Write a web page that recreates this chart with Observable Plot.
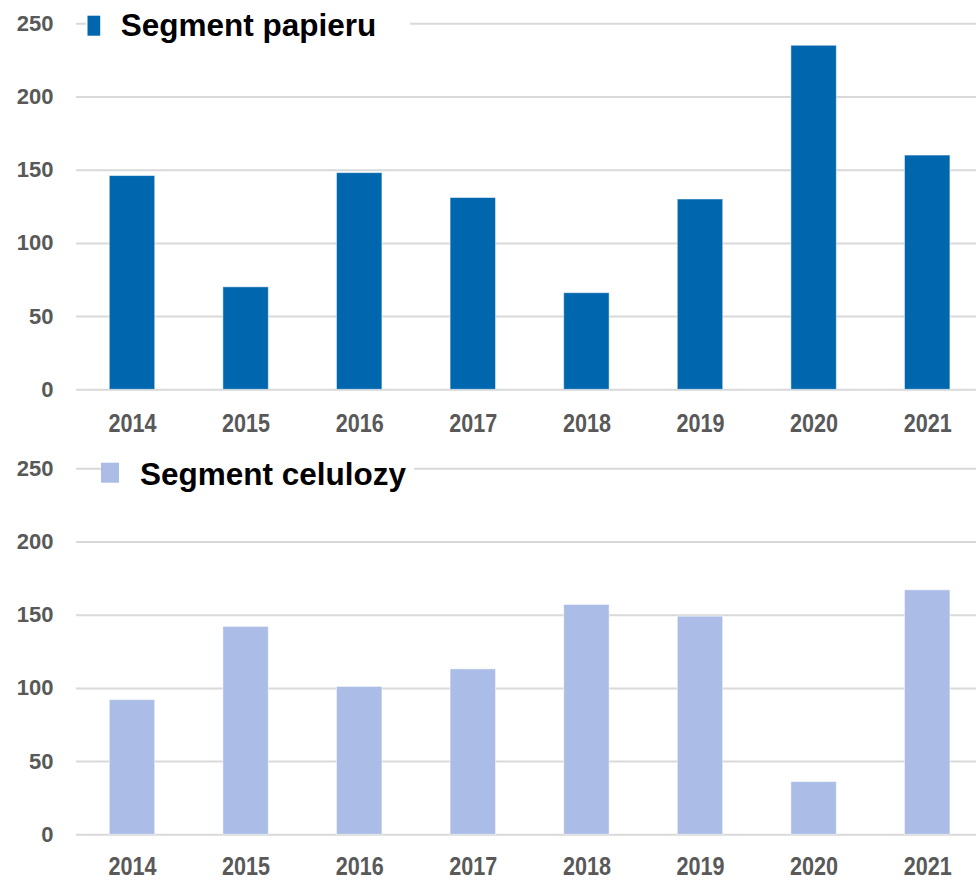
<!DOCTYPE html>
<html>
<head>
<meta charset="utf-8">
<script src="https://cdn.jsdelivr.net/npm/d3@7"></script>
<script src="https://cdn.jsdelivr.net/npm/@observablehq/plot@0.6"></script>
<style>
  html, body { margin: 0; padding: 0; background: white; overflow: hidden; }
  #wrap { width: 976px; }
  #wrap svg { display: block; }
</style>
</head>
<body>
<div id="wrap"></div>
<script>
const years = ["2014", "2015", "2016", "2017", "2018", "2019", "2020", "2021"];
const paperValues = [146, 70, 148, 131, 66, 130, 235, 160];
const pulpValues = [92, 142, 101, 113, 157, 149, 36, 167];
const yTicks = [0, 50, 100, 150, 200, 250];
const titles = ["Segment papieru", "Segment celulozy"];
const colors = ["#0066AD", "#ABBDE6"];

const FONT = "'Liberation Sans', Arial, Helvetica, sans-serif";

function makeChart(values, color, o) {
  const table = years.map((year, i) => ({year, value: values[i]}));
  const svg = Plot.plot({
    width: 976,
    height: o.height,
    marginTop: o.marginTop,
    marginBottom: o.marginBottom,
    marginLeft: 76,
    marginRight: 0,
    style: {fontFamily: FONT, background: "white", overflow: "hidden"},
    x: {type: "band", domain: years, range: [75.2, 984], paddingInner: 0.6, paddingOuter: 0.3, round: false, label: null},
    y: {domain: [0, 250], label: null},
    marks: [
      Plot.gridY(yTicks, {stroke: "#d9d9d9", strokeOpacity: 1, strokeWidth: 2}),
      Plot.barY(table, {x: "year", y: "value", fill: color, stroke: "white", strokeOpacity: 0.5, strokeWidth: 1}),
      Plot.axisY(yTicks, {tickSize: 0, tickPadding: 23, fontSize: 22, fontWeight: "bold", fill: "#595959", label: null}),
      Plot.axisX({tickSize: 0, tickPadding: o.xPad, fontSize: 26.5, fontWeight: "bold", fill: "#595959", label: null})
    ]
  });
  // condense the year labels horizontally
  svg.querySelectorAll('g[aria-label="x-axis tick label"] text').forEach(el => {
    el.setAttribute("textLength", 48);
    el.setAttribute("lengthAdjust", "spacingAndGlyphs");
  });
  // legend / title
  const s = d3.select(svg);
  const lg = o.legend;
  s.append("rect").attr("x", lg.boxX).attr("y", lg.boxY).attr("width", lg.boxW).attr("height", lg.boxH).attr("fill", "white");
  s.append("rect").attr("x", lg.mx).attr("y", lg.my).attr("width", lg.mw).attr("height", lg.mh).attr("fill", color);
  s.append("text").attr("x", lg.tx).attr("y", lg.ty)
    .attr("text-anchor", "start")
    .attr("font-family", FONT).attr("font-weight", "bold").attr("font-size", 31.5)
    .attr("fill", "#000").text(o.title);
  return svg;
}

const wrap = document.getElementById("wrap");
wrap.appendChild(makeChart(paperValues, colors[0], {
  height: 440, marginTop: 23.3, marginBottom: 50.7, xPad: 23.2, title: titles[0],
  legend: {boxX: 86, boxY: 8, boxW: 324, boxH: 34, mx: 87.5, my: 15.7, mw: 12.7, mh: 20, tx: 120.7, ty: 35.7}
}));
wrap.appendChild(makeChart(pulpValues, colors[1], {
  height: 441, marginTop: 28.3, marginBottom: 46.7, xPad: 21.2, title: titles[1],
  legend: {boxX: 101, boxY: 14, boxW: 313, boxH: 34, mx: 101, my: 22.7, mw: 18, mh: 20, tx: 140, ty: 45}
}));
</script>
</body>
</html>
